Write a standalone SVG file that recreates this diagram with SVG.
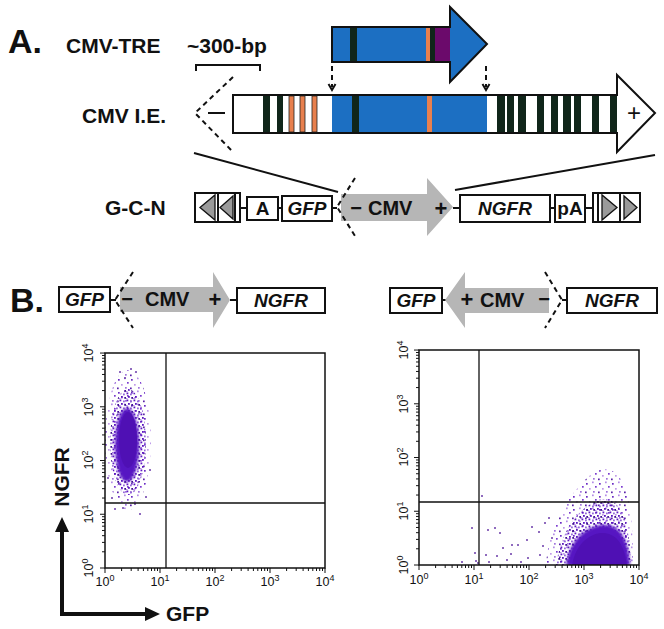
<svg xmlns="http://www.w3.org/2000/svg" xmlns:xlink="http://www.w3.org/1999/xlink" width="664" height="629" viewBox="0 0 664 629">
<style>
.lab{font-family:"Liberation Sans",Arial,sans-serif;font-weight:bold;fill:#111}
.gi{font-family:"Liberation Sans",Arial,sans-serif;font-weight:bold;font-style:italic;fill:#111;text-anchor:middle}
.ax{font-family:"Liberation Sans",Arial,sans-serif;fill:#111;font-size:12.5px;text-anchor:middle}
.box{fill:#fff;stroke:#111;stroke-width:2}
.ln{stroke:#111;stroke-width:2;fill:none}
.dash{stroke:#111;stroke-width:2;fill:none;stroke-dasharray:5 4}
.gray{fill:#b6b6b6}
.dk{fill:#10261a}
.or{fill:#e8804e;stroke:#222;stroke-width:0.8}
.fr{fill:none;stroke:#111;stroke-width:1.5}
.gate{stroke:#111;stroke-width:1.3}
.tk{stroke:#111;stroke-width:1;fill:none}
.tri{fill:#9a9a9a;stroke:#111;stroke-width:1.3}
</style>
<defs>
<pattern id="sp" width="13" height="13" patternUnits="userSpaceOnUse">
<rect x="1" y="2" width="1.7" height="1.7" fill="#6b2bc4"/>
<rect x="7" y="0.5" width="1.7" height="1.7" fill="#b48ce6"/>
<rect x="10" y="5" width="1.7" height="1.7" fill="#7b3cd0"/>
<rect x="4" y="7" width="1.7" height="1.7" fill="#c09ae8"/>
<rect x="0" y="10.5" width="1.7" height="1.7" fill="#5a22a8"/>
<rect x="8" y="10" width="1.7" height="1.7" fill="#9f72dc"/>
</pattern>
<pattern id="md" width="7" height="7" patternUnits="userSpaceOnUse">
<rect x="0.5" y="0.5" width="1.8" height="1.8" fill="#5e18c2"/>
<rect x="4" y="1.5" width="1.8" height="1.8" fill="#9366da"/>
<rect x="2" y="4" width="1.8" height="1.8" fill="#5a14c0"/>
<rect x="5.3" y="5" width="1.8" height="1.8" fill="#3e0e90"/>
<rect x="0" y="6" width="1.5" height="1.5" fill="#b08ae4"/>
</pattern>
<filter id="bl" x="-20%" y="-20%" width="140%" height="140%"><feGaussianBlur stdDeviation="1.5"/></filter>
<clipPath id="cl"><rect x="105" y="353" width="220" height="215"/></clipPath>
<clipPath id="cr"><rect x="419" y="350" width="220" height="215"/></clipPath>
<path id="tx" class="tk" d="M0 0v5M16.6 0v3M26.2 0v3M33.1 0v3M38.4 0v3M42.8 0v3M46.5 0v3M49.7 0v3M52.5 0v3M55 0v5M71.6 0v3M81.2 0v3M88.1 0v3M93.4 0v3M97.8 0v3M101.5 0v3M104.7 0v3M107.5 0v3M110 0v5M126.6 0v3M136.2 0v3M143.1 0v3M148.4 0v3M152.8 0v3M156.5 0v3M159.7 0v3M162.5 0v3M165 0v5M181.6 0v3M191.2 0v3M198.1 0v3M203.4 0v3M207.8 0v3M211.5 0v3M214.7 0v3M217.5 0v3M220 0v5"/>
</defs>
<rect width="664" height="629" fill="#fff"/>

<!-- Panel A -->
<g id="panelA-labels">
<text class="lab" x="8" y="53" font-size="34">A.</text>
<text class="lab" x="66" y="53" font-size="21">CMV-TRE</text>
<text class="lab" x="187" y="53" font-size="21">~300-bp</text>
<path class="ln" d="M196 71V65H260V71"/>
<text class="lab" x="82" y="123" font-size="21">CMV I.E.</text>
<text class="lab" x="105" y="215" font-size="21">G-C-N</text>
</g>

<g id="cmv-tre">
<path d="M332 27H450V7L487 44L450 82V62H332Z" fill="#1c6fc2" stroke="#111" stroke-width="2"/>
<rect class="dk" x="350" y="28" width="7" height="33"/>
<rect x="426" y="28" width="4" height="33" fill="#e8804e"/>
<rect class="dk" x="430" y="28" width="5" height="33"/>
<rect x="435" y="28" width="15" height="33" fill="#6b0a6b"/>
</g>

<g id="cmv-ie">
<path d="M233 95H617V75L655 113L617 152V133H233Z" fill="#fff" stroke="#111" stroke-width="2"/>
<rect class="dk" x="263" y="96" width="7" height="36"/>
<rect class="dk" x="277" y="96" width="6" height="36"/>
<rect class="or" x="289" y="96" width="5" height="36"/>
<rect class="or" x="300" y="96" width="5" height="36"/>
<rect class="or" x="312" y="96" width="5" height="36"/>
<rect x="332" y="96" width="155" height="36" fill="#1c6fc2"/>
<rect class="dk" x="352" y="96" width="7" height="36"/>
<rect x="427" y="96" width="5" height="36" fill="#e8804e"/>
<rect class="dk" x="497" y="96" width="8" height="36"/>
<rect class="dk" x="507" y="96" width="7" height="36"/>
<rect class="dk" x="518" y="96" width="8" height="36"/>
<rect class="dk" x="537" y="96" width="7" height="36"/>
<rect class="dk" x="551" y="96" width="7" height="36"/>
<rect class="dk" x="563" y="96" width="8" height="36"/>
<rect class="dk" x="574" y="96" width="7" height="36"/>
<rect class="dk" x="592" y="96" width="7" height="36"/>
<rect class="dk" x="610" y="96" width="7" height="36"/>
<path class="dash" d="M233 77L195 113L233 152"/>
<path class="ln" d="M208 113H225"/>
<text x="634" y="121" font-family="Liberation Sans, Arial, sans-serif" font-size="24" text-anchor="middle" fill="#111">+</text>
</g>

<g id="connectors">
<path class="dash" d="M332 66V87" stroke-width="1.5" stroke-dasharray="4 3"/>
<path class="ln" d="M328.5 84L332 90L335.5 84" stroke-width="1.5"/>
<path class="dash" d="M486 66V87" stroke-width="1.5" stroke-dasharray="4 3"/>
<path class="ln" d="M482.5 84L486 90L489.5 84" stroke-width="1.5"/>
<path class="ln" d="M194 153L338 192"/>
<path class="ln" d="M655 155L455 190"/>
<path class="ln" d="M240 208H247M278 208H282M332 208H337M453 208H460M550 208H555M585 208H593"/>
<path class="ln" d="M110 300H116M230 300H237M442 300H446M562 300H567"/>
</g>

<!-- G-C-N construct -->
<g id="gcn-left-box">
<rect class="box" x="195" y="193" width="45" height="29"/>
<path class="ln" d="M218 193V222M235 193V222"/>
<polygon class="tri" points="200,207.5 215,195 215,220"/>
<polygon class="tri" points="220,207.5 233,196 233,219"/>
</g>
<g id="gcn-A"><rect class="box" x="247" y="197" width="31" height="23"/><text class="lab" x="262.5" y="215" font-size="19" text-anchor="middle">A</text></g>
<g id="gcn-GFP"><rect class="box" x="282" y="196" width="50" height="25"/><text class="gi" x="307" y="215" font-size="19">GFP</text></g>
<g id="gcn-CMV">
<path class="gray" d="M341 194H427V178L453 207L427 236V221H341Z"/>
<path class="dash" d="M355 178L337 207L355 236" stroke-width="1.5" stroke-dasharray="4 3"/>
<text class="lab" x="356" y="215" font-size="20" text-anchor="middle" font-weight="normal">−</text>
<text class="lab" x="368" y="215" font-size="20">CMV</text>
<text class="lab" x="441" y="216" font-size="22" text-anchor="middle" font-weight="normal">+</text>
</g>
<g id="gcn-NGFR"><rect class="box" x="460" y="195" width="90" height="27"/><text class="gi" x="505" y="215" font-size="19">NGFR</text></g>
<g id="gcn-pA"><rect class="box" x="555" y="195" width="30" height="27"/><text class="lab" x="570" y="215" font-size="19" text-anchor="middle">pA</text></g>
<g id="gcn-right-box">
<rect class="box" x="593" y="193" width="47" height="29"/>
<path class="ln" d="M598 193V222M620 193V222"/>
<polygon class="tri" points="617,207.5 602,195 602,220"/>
<polygon class="tri" points="637,207.5 624,196 624,219"/>
</g>

<!-- Panel B -->
<text class="lab" x="10" y="312" font-size="34">B.</text>
<g id="b-left">
<rect class="box" x="59" y="287" width="51" height="25"/><text class="gi" x="84.5" y="306" font-size="19">GFP</text>
<path class="gray" d="M120 287H213V272L230 300L213 328V312H120Z"/>
<path class="dash" d="M133 272L115 300L133 328" stroke-width="1.5" stroke-dasharray="4 3"/>
<text class="lab" x="127" y="306" font-size="20" text-anchor="middle" font-weight="normal">−</text>
<text class="lab" x="145" y="306" font-size="20">CMV</text>
<text class="lab" x="215" y="307" font-size="22" text-anchor="middle" font-weight="normal">+</text>
<rect class="box" x="237" y="288" width="88" height="25"/><text class="gi" x="281" y="307" font-size="19">NGFR</text>
</g>
<g id="b-right">
<rect class="box" x="390" y="288" width="52" height="25"/><text class="gi" x="416" y="307" font-size="19">GFP</text>
<path class="gray" d="M445 300L465 272V288H549V313H465V328Z"/>
<path class="dash" d="M545 272L562 300L545 328" stroke-width="1.5" stroke-dasharray="4 3"/>
<text class="lab" x="467" y="307" font-size="22" text-anchor="middle" font-weight="normal">+</text>
<text class="lab" x="480" y="307" font-size="20">CMV</text>
<text class="lab" x="544" y="306" font-size="20" text-anchor="middle" font-weight="normal">−</text>
<rect class="box" x="567" y="288" width="90" height="25"/><text class="gi" x="612" y="307" font-size="19">NGFR</text>
</g>

<!-- Left plot -->
<g id="plot-left">
<g clip-path="url(#cl)">
<ellipse cx="128" cy="440" rx="23" ry="70" fill="url(#sp)"/>
<ellipse cx="128" cy="442" rx="18" ry="53" fill="url(#md)"/>
<ellipse cx="127" cy="445" rx="12" ry="37" fill="#5714c2" filter="url(#bl)"/>
<ellipse cx="128" cy="440" rx="9" ry="28" fill="#4f10b4"/>
</g>
<g fill="#6a3aa8">
<circle cx="115" cy="509" r="1"/><circle cx="123" cy="508" r="1"/><circle cx="135" cy="504" r="1"/><circle cx="140" cy="514" r="1"/><circle cx="112" cy="498" r="1"/><circle cx="146" cy="497" r="1"/><circle cx="120" cy="372" r="1"/><circle cx="131" cy="369" r="1"/><circle cx="136" cy="372" r="1"/><circle cx="125" cy="378" r="1"/><circle cx="150" cy="470" r="1"/><circle cx="108" cy="478" r="1"/>
</g>
<rect class="fr" x="105" y="353" width="220" height="215"/>
<path class="gate" d="M166 353V568M105 503H325"/>
<use xlink:href="#tx" transform="translate(105,568)"/>
<use xlink:href="#tx" transform="translate(105,568) rotate(-90) scale(0.977,-1)"/>
<text class="ax" y="586"><tspan x="105">10</tspan><tspan dy="-5" font-size="9">0</tspan></text>
<text class="ax" y="586"><tspan x="160">10</tspan><tspan dy="-5" font-size="9">1</tspan></text>
<text class="ax" y="586"><tspan x="215">10</tspan><tspan dy="-5" font-size="9">2</tspan></text>
<text class="ax" y="586"><tspan x="270">10</tspan><tspan dy="-5" font-size="9">3</tspan></text>
<text class="ax" y="586"><tspan x="325">10</tspan><tspan dy="-5" font-size="9">4</tspan></text>
<text class="ax" transform="translate(93,568) rotate(-90)">10<tspan dy="-5" font-size="9">0</tspan></text>
<text class="ax" transform="translate(93,514) rotate(-90)">10<tspan dy="-5" font-size="9">1</tspan></text>
<text class="ax" transform="translate(93,460) rotate(-90)">10<tspan dy="-5" font-size="9">2</tspan></text>
<text class="ax" transform="translate(93,407) rotate(-90)">10<tspan dy="-5" font-size="9">3</tspan></text>
<text class="ax" transform="translate(93,353) rotate(-90)">10<tspan dy="-5" font-size="9">4</tspan></text>
</g>

<g id="axis-arrows">
<path d="M62 614V530M60 614H148" stroke="#111" stroke-width="4" fill="none"/>
<polygon points="62,517 55,532 69,532" fill="#111"/>
<polygon points="160,614 145,607 145,621" fill="#111"/>
<text class="lab" transform="translate(69,477) rotate(-90)" font-size="21" text-anchor="middle">NGFR</text>
<text class="lab" x="166" y="621" font-size="21">GFP</text>
</g>

<!-- Right plot -->
<g id="plot-right">
<g clip-path="url(#cr)">
<path d="M546 566C548 530 565 500 585 480C598 466 612 466 620 478C630 492 633 520 633 566Z" fill="url(#sp)"/>
<path d="M556 566C560 535 575 510 598 500C615 495 630 510 631 566Z" fill="url(#md)"/>
<path d="M566 566C569 540 585 528 600 525C618 523 628 535 630 566Z" fill="#5714c2" filter="url(#bl)"/>
<path d="M572 566C575 545 588 535 600 533C615 532 624 542 627 566Z" fill="#4f10b4"/>
</g>
<g fill="#6a3aa8">
<circle cx="472" cy="528" r="1"/><circle cx="475" cy="553" r="1"/><circle cx="476" cy="561" r="1"/><circle cx="478" cy="563" r="1"/><circle cx="482" cy="496" r="1"/><circle cx="488" cy="530" r="1"/><circle cx="489" cy="562" r="1"/><circle cx="495" cy="528" r="1"/><circle cx="497" cy="556" r="1"/><circle cx="500" cy="533" r="1"/><circle cx="503" cy="548" r="1"/><circle cx="507" cy="560" r="1"/><circle cx="511" cy="554" r="1"/><circle cx="512" cy="545" r="1"/><circle cx="518" cy="545" r="1"/><circle cx="521" cy="562" r="1"/><circle cx="527" cy="540" r="1"/><circle cx="532" cy="527" r="1"/><circle cx="539" cy="532" r="1"/><circle cx="545" cy="523" r="1"/><circle cx="549" cy="518" r="1"/><circle cx="552" cy="538" r="1"/><circle cx="540" cy="555" r="1"/><circle cx="528" cy="558" r="1"/><circle cx="486" cy="555" r="1"/><circle cx="462" cy="562" r="1"/><circle cx="543" cy="546" r="1"/>
</g>
<rect class="fr" x="419" y="350" width="220" height="215"/>
<path class="gate" d="M479 350V565M419 502H639"/>
<use xlink:href="#tx" transform="translate(419,565)"/>
<use xlink:href="#tx" transform="translate(419,565) rotate(-90) scale(0.977,-1)"/>
<text class="ax" y="584"><tspan x="419">10</tspan><tspan dy="-5" font-size="9">0</tspan></text>
<text class="ax" y="584"><tspan x="474">10</tspan><tspan dy="-5" font-size="9">1</tspan></text>
<text class="ax" y="584"><tspan x="529">10</tspan><tspan dy="-5" font-size="9">2</tspan></text>
<text class="ax" y="584"><tspan x="584">10</tspan><tspan dy="-5" font-size="9">3</tspan></text>
<text class="ax" y="584"><tspan x="639">10</tspan><tspan dy="-5" font-size="9">4</tspan></text>
<text class="ax" transform="translate(408,565) rotate(-90)">10<tspan dy="-5" font-size="9">0</tspan></text>
<text class="ax" transform="translate(408,511) rotate(-90)">10<tspan dy="-5" font-size="9">1</tspan></text>
<text class="ax" transform="translate(408,457) rotate(-90)">10<tspan dy="-5" font-size="9">2</tspan></text>
<text class="ax" transform="translate(408,404) rotate(-90)">10<tspan dy="-5" font-size="9">3</tspan></text>
<text class="ax" transform="translate(408,350) rotate(-90)">10<tspan dy="-5" font-size="9">4</tspan></text>
</g>
</svg>
